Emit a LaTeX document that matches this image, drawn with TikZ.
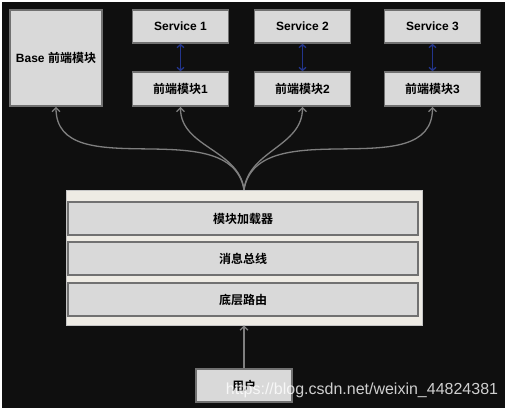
\documentclass[tikz,border=0pt]{standalone}
\usepackage{fontspec}
\setmainfont{Liberation Sans}
\newfontfamily\cjk{Noto Sans CJK SC}[BoldFont={Noto Sans CJK SC Bold}]
\usetikzlibrary{arrows.meta}
\definecolor{bgdark}{HTML}{0F0F0F}
\definecolor{boxfill}{HTML}{D9D9D9}
\definecolor{boxline}{HTML}{717171}
\definecolor{shellfill}{HTML}{EEEBE4}
\definecolor{linkgray}{HTML}{7F7F7F}
\definecolor{callblue}{HTML}{23358C}
\tikzset{
	module/.style={draw=boxline, fill=boxfill, line width=1.6pt, inner sep=0pt, font=\bfseries\fontsize{12}{14}\selectfont},
	link/.style={draw=linkgray, line width=1.3pt, -{Straight Barb[length=4pt, width=8pt]}},
	call/.style={draw=callblue, line width=1.3pt, {Straight Barb[length=3pt, width=7pt]}-{Straight Barb[length=3pt, width=7pt]}}
}
\begin{document}
\begin{tikzpicture}[x=1pt, y=1pt]
			\useasboundingbox (0, 0) rectangle (507, 410);
			\fill[white] (0, 0) rectangle (507, 410);
			\fill[bgdark] (2, 2) rectangle (505, 408);
			\node[module, minimum width=92pt, minimum height=96pt] (base) at (56, 352) {Base {\cjk 前端模块}};
			\node foreach \i/\x in {1/180.5, 2/302.5, 3/432.5} [module, minimum width=96pt, minimum height=33pt] (svc\i) at (\x, 383.5) {Service \i};
			\node foreach \i/\x in {1/180.5, 2/302.5, 3/432.5} [module, minimum width=96pt, minimum height=34pt] (fe\i) at (\x, 321) {{\cjk 前端模块}\i};
			\node[draw=boxline!40, fill=shellfill, line width=.6pt, minimum width=356pt, minimum height=135pt] (shell) at (244, 152.5) {};
			\node[module, minimum width=350pt, minimum height=33pt] (loader) at (243, 191.5) {\cjk 模块加载器};
			\node[module, minimum width=350pt, minimum height=33pt] (bus) at (243, 151.5) {\cjk 消息总线};
			\node[module, minimum width=350pt, minimum height=33pt] (router) at (243, 110.5) {\cjk 底层路由};
			\node[module, minimum width=96pt, minimum height=33pt] (user) at (244, 24.5) {\cjk 用户};
			\foreach \i in {1, 2, 3}
				\draw[call] (svc\i) -- (fe\i);
			\draw[link] (user) -- (shell);
			\draw[link] (shell.north) to[out=100, in=-90] (base.south);
			\draw[link] (shell.north) to[out=97, in=-90] (fe1.south);
			\draw[link] (shell.north) to[out=83, in=-90] (fe2.south);
			\draw[link] (shell.north) to[out=80, in=-90] (fe3.south);
			\node[white, opacity=.8, font=\fontsize{16}{18}\selectfont] (mark) at (362, 20) {https://blog.csdn.net/weixin\_44824381};
		\end{tikzpicture}
\end{document}
